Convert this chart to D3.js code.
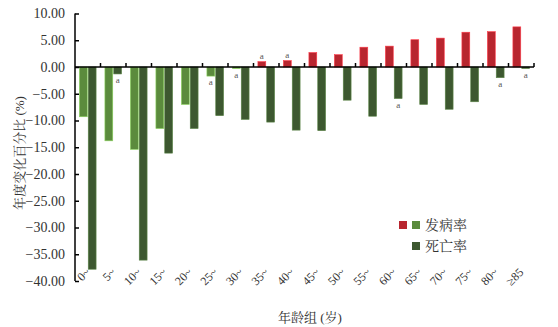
<!DOCTYPE html>
<html><head><meta charset="utf-8">
<script src="https://cdn.jsdelivr.net/npm/d3@7"></script>
<style>body{margin:0;background:#fff}svg{display:block}</style>
</head><body>
<svg id="c" width="558" height="327"></svg>
<script>
const ages = ["0~","5~","10~","15~","20~","25~","30~","35~","40~","45~","50~","55~","60~","65~","70~","75~","80~","≥85"];
const incidence = [-9.3,-13.8,-15.4,-11.5,-7.0,-1.7,-0.3,1.0,1.2,2.7,2.3,3.7,3.9,5.1,5.4,6.5,6.6,7.5];
const mortality = [-37.8,-1.3,-36.1,-16.1,-11.5,-9.1,-9.8,-10.3,-11.8,-11.9,-6.2,-9.2,-5.9,-7.0,-7.9,-6.5,-2.0,-0.3];
const incSig = [0,0,0,0,0,1,1,1,1,0,0,0,0,0,0,0,0,0];
const mortSig = [0,1,0,0,0,0,0,0,0,0,0,0,1,0,0,0,1,1];
const yTicks = [10,5,0,-5,-10,-15,-20,-25,-30,-35,-40];
const seriesKeys = ["inc","mort"];

const RED="#b8262f", LG="#5b8b3d", DG="#3d5830";
const SERIF = '"Liberation Serif", serif';
const CJK = '"Liberation Serif", "Noto Serif CJK SC", "Noto Sans CJK SC", serif';
const svg = d3.select("#c");

const y = d3.scaleLinear().domain([-40,10]).range([281,13.5]);
const x = d3.scaleBand().domain(ages).range([75,534]).padding(0);
const xs = d3.scaleBand().domain(seriesKeys).range([0,x.bandwidth()]).paddingInner(0.11).paddingOuter(0.5);

const rows = ages.map((a,i)=>({a,i,inc:incidence[i],mort:mortality[i]}));

// bars
const g = svg.append("g");
rows.forEach(r=>{
  [["inc",r.inc, r.inc>=0?RED:LG, incSig[r.i]],["mort",r.mort,DG,mortSig[r.i]]].forEach(([k,v,col,sig])=>{
    const x0 = x(r.a)+xs(k);
    g.append("rect").attr("x",x0).attr("width",xs.bandwidth())
      .attr("y",y(Math.max(0,v))).attr("height",Math.abs(y(v)-y(0)))
      .attr("fill",col).attr("stroke",d3.color(col).brighter(1.2)).attr("stroke-width",0.6);
    if(sig){
      g.append("text").style("font-family",SERIF).attr("x",x0+xs.bandwidth()/2)
        .attr("y", v>=0 ? y(v)-3 : y(v)+9)
        .attr("text-anchor","middle").attr("font-size",9)
        .attr("fill","#555").text("a");
    }
  });
});

// x axis line at 0
svg.append("line").attr("x1",75).attr("x2",534).attr("y1",y(0)).attr("y2",y(0))
  .attr("stroke","#000").attr("stroke-width",1.5);
const bounds = ages.map(a=>x(a)).concat([x.range()[1]]);
bounds.slice(1).forEach(b=>{
  svg.append("line").attr("x1",b).attr("x2",b).attr("y1",y(0)).attr("y2",y(0)-4)
    .attr("stroke","#000").attr("stroke-width",1.5);
});

// y axis
const yAxis = d3.axisLeft(y).tickValues(yTicks).tickSize(-4).tickPadding(10)
  .tickFormat(d=>d3.format(".2f")(d).replace("-","\u2212"));
const ya = svg.append("g").attr("transform","translate(75,0)").call(yAxis);
ya.select(".domain").attr("stroke-width",1.5).attr("d","M0,"+y(10)+"V"+y(-40));
ya.selectAll(".tick line").attr("stroke-width",1.5);
ya.selectAll(".tick text").style("font-family",SERIF).attr("font-size",14).attr("fill","#333");

// x labels
rows.forEach(r=>{
  const cx = x(r.a)+x.bandwidth()/2+3;
  svg.append("text").style("font-family",SERIF).attr("transform",`translate(${cx},${273}) rotate(-45)`)
    .attr("text-anchor","end").attr("font-size",12).attr("fill","#333").text(r.a);
});

// titles
svg.append("text").style("font-family",CJK).attr("x",310).attr("y",322).attr("text-anchor","middle")
  .attr("font-size",13).attr("fill","#333").text("年龄组 (岁)");
svg.append("text").style("font-family",CJK).attr("transform","translate(24,153) rotate(-90)").attr("text-anchor","middle")
  .attr("font-size",13).attr("fill","#333").text("年度变化百分比 (%)");

// legend
const lg = svg.append("g");
lg.append("rect").attr("x",399).attr("y",221).attr("width",8).attr("height",8).attr("fill",RED);
lg.append("rect").attr("x",412).attr("y",221).attr("width",8).attr("height",8).attr("fill",LG);
lg.append("text").style("font-family",CJK).attr("x",425).attr("y",230).attr("font-size",14).attr("fill","#333").text("发病率");
lg.append("rect").attr("x",412).attr("y",242).attr("width",8).attr("height",8).attr("fill",DG);
lg.append("text").style("font-family",CJK).attr("x",425).attr("y",251).attr("font-size",14).attr("fill","#333").text("死亡率");
</script>
</body></html>
